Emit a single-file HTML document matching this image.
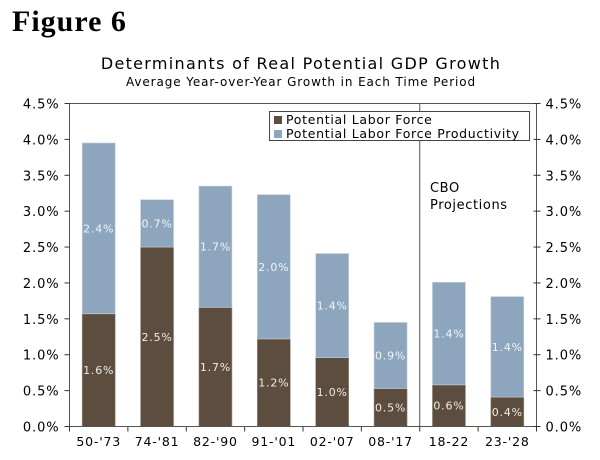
<!DOCTYPE html>
<html><head><meta charset="utf-8"><style>
body{margin:0;background:#fff;width:600px;height:460px;overflow:hidden}
svg{display:block}
text{font-family:"DejaVu Sans","Liberation Sans",sans-serif}
</style></head><body>
<svg id="chart" width="600" height="460">
<text x="12" y="31" font-weight="bold" font-size="30" fill="#000" letter-spacing="1" style="font-family:'Liberation Serif',serif">Figure 6</text>
<text x="301" y="69" text-anchor="middle" font-size="16" letter-spacing="1.3" fill="#000">Determinants of Real Potential GDP Growth</text>
<text x="301" y="86" text-anchor="middle" font-size="12" letter-spacing="0.9" fill="#000">Average Year-over-Year Growth in Each Time Period</text>
<g id="plot"></g>
</svg>
<script>
const categories=["50-'73","74-'81","82-'90","91-'01","02-'07","08-'17","18-22","23-'28"];
const laborForce=[1.57,2.5,1.66,1.22,0.96,0.53,0.58,0.41];
const productivity=[2.38,0.66,1.69,2.01,1.45,0.92,1.43,1.40];
const laborLabels=["1.6%","2.5%","1.7%","1.2%","1.0%","0.5%","0.6%","0.4%"];
const prodLabels=["2.4%","0.7%","1.7%","2.0%","1.4%","0.9%","1.4%","1.4%"];
const yTicks=[0,0.5,1,1.5,2,2.5,3,3.5,4,4.5];
const tickLabels=["0.0%","0.5%","1.0%","1.5%","2.0%","2.5%","3.0%","3.5%","4.0%","4.5%"];
const L=69.5,R=536.5,Y0=426.5,YT=103.5,NS='http://www.w3.org/2000/svg';
const y=v=>Y0-(v/4.5)*(Y0-YT);
const slot=(R-L)/categories.length;
const cx=i=>L+slot*(i+0.5);
const g=document.getElementById('plot');
function mk(t,a,txt){const e=document.createElementNS(NS,t);for(const k in a)e.setAttribute(k,a[k]);if(txt!=null)e.textContent=txt;g.appendChild(e);return e;}
const BW=33;
categories.forEach((c,i)=>{
 const a=mk('rect',{x:cx(i)-BW/2,y:y(laborForce[i]),width:BW,height:Y0-y(laborForce[i]),fill:'#5c4d3f',stroke:'#9a9088','stroke-width':0.6});
 
 
 const top=laborForce[i]+productivity[i];
 const b=mk('rect',{x:cx(i)-BW/2,y:y(top),width:BW,height:y(laborForce[i])-y(top),fill:'#8ea6bd',stroke:'#c8d2dc','stroke-width':0.6});
 
 
 const t1=mk('text',{x:cx(i),y:(y(0)+y(laborForce[i]))/2+4,'text-anchor':'middle','font-size':11,'letter-spacing':0.8,fill:'#f0ece8'},laborLabels[i]);
 
 
 const t2=mk('text',{x:cx(i),y:(y(laborForce[i])+y(top))/2+4,'text-anchor':'middle','font-size':11,'letter-spacing':0.8,fill:'#f0f4f8'},prodLabels[i]);
 
 
 const xl=mk('text',{x:cx(i),y:446,'text-anchor':'middle','font-size':12.5,'letter-spacing':0.8,fill:'#000'},c);
 
 
});
for(let i=0;i<=categories.length;i++){mk('line',{x1:L+slot*i,x2:L+slot*i,y1:Y0,y2:Y0+5,stroke:'#333','stroke-width':1});}
const frame=mk('rect',{x:L,y:YT,width:R-L,height:Y0-YT,fill:'none',stroke:'#555','stroke-width':1});


yTicks.forEach((v,i)=>{
 mk('line',{x1:L-5,x2:L,y1:y(v),y2:y(v),stroke:'#333'});
 mk('line',{x1:R-3,x2:R+4,y1:y(v),y2:y(v),stroke:'#333'});
 const a=mk('text',{x:L-10,y:y(v)+5,'text-anchor':'end','font-size':13,'letter-spacing':0.9,fill:'#000'},tickLabels[i]);
 
 
 const b=mk('text',{x:R+9,y:y(v)+5,'font-size':13,'letter-spacing':0.9,fill:'#000'},tickLabels[i]);
 
 
});
const div=mk('line',{x1:L+slot*6,x2:L+slot*6,y1:YT,y2:Y0,stroke:'#555','stroke-width':1});


const p1=mk('text',{x:430,y:192,'font-size':13,'letter-spacing':0.6,fill:'#000'},'CBO');


const p2=mk('text',{x:430,y:209,'font-size':13,'letter-spacing':0.6,fill:'#000'},'Projections');


const lg=mk('rect',{x:269.5,y:111.5,width:260,height:29,fill:'#fff',stroke:'#444'});


mk('rect',{x:274,y:116,width:8,height:8,fill:'#5c4d3f'});
mk('rect',{x:274,y:130,width:8,height:8,fill:'#8ea6bd'});
const l1=mk('text',{x:286,y:124,'font-size':12.5,'letter-spacing':0.7,fill:'#000'},'Potential Labor Force');


const l2=mk('text',{x:286,y:138,'font-size':12.5,'letter-spacing':0.7,fill:'#000'},'Potential Labor Force Productivity');


</script>
</body></html>
